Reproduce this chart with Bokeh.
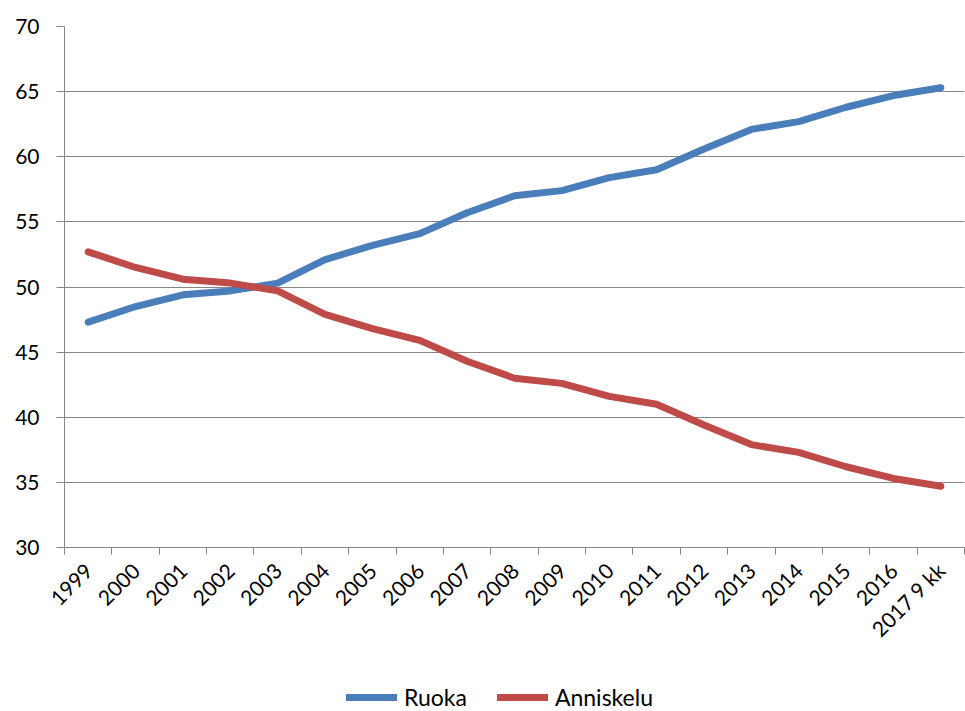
from math import pi
from bokeh.plotting import figure
from bokeh.layouts import column
from bokeh.models import ColumnDataSource, Range1d, FixedTicker, Legend, LegendItem
from bokeh.embed import file_html
from bokeh.resources import INLINE

years = ["1999", "2000", "2001", "2002", "2003", "2004", "2005", "2006", "2007",
         "2008", "2009", "2010", "2011", "2012", "2013", "2014", "2015", "2016",
         "2017 9 kk"]
ruoka = [47.3, 48.5, 49.4, 49.7, 50.3, 52.1, 53.2, 54.1, 55.7, 57.0, 57.4, 58.4,
         59.0, 60.6, 62.1, 62.7, 63.8, 64.7, 65.3]
anniskelu = [52.7, 51.5, 50.6, 50.3, 49.7, 47.9, 46.8, 45.9, 44.3, 43.0, 42.6, 41.6,
             41.0, 39.4, 37.9, 37.3, 36.2, 35.3, 34.7]
y_ticks = [30, 35, 40, 45, 50, 55, 60, 65, 70]

FONT = "Lato"
GRID = "#868686"
BLUE = "#4A7EBB"
RED = "#BE4B48"

idx = list(range(len(years)))
src = ColumnDataSource(dict(x=idx, ruoka=ruoka, anniskelu=anniskelu))

p = figure(width=965, height=670, output_backend="svg", toolbar_location=None,
           x_range=Range1d(-0.5, len(years) - 0.5), y_range=Range1d(y_ticks[0], y_ticks[-1]),
           min_border_left=64, min_border_right=1, min_border_top=26, min_border_bottom=123)
p.outline_line_color = None
p.background_fill_color = "white"

line_kw = dict(line_width=7, line_cap="round", line_join="round")
r1 = p.line("x", "ruoka", source=src, line_color=BLUE, **line_kw)
r2 = p.line("x", "anniskelu", source=src, line_color=RED, **line_kw)

# x axis
xa = p.xaxis[0]
xa.ticker = FixedTicker(ticks=idx, minor_ticks=[i - 0.5 for i in range(len(years) + 1)])
xa.major_label_overrides = {i: lab for i, lab in enumerate(years)}
xa.major_label_orientation = pi / 4
xa.major_tick_out = 0
xa.major_tick_in = 0
xa.minor_tick_out = 7
xa.minor_tick_in = 0
xa.minor_tick_line_color = GRID
xa.axis_line_color = GRID
xa.major_label_text_font = FONT
xa.major_label_text_font_size = "21px"
xa.major_label_text_color = "black"
xa.major_label_standoff = 12

# y axis
ya = p.yaxis[0]
ya.ticker = FixedTicker(ticks=y_ticks)
ya.major_tick_out = 8
ya.major_tick_in = 0
ya.minor_tick_line_color = None
ya.major_tick_line_color = GRID
ya.axis_line_color = GRID
ya.major_label_text_font = FONT
ya.major_label_text_font_size = "21px"
ya.major_label_text_color = "black"
ya.major_label_standoff = 17

p.xgrid.grid_line_color = None
p.ygrid.grid_line_color = GRID
p.ygrid.grid_line_width = 1

# legend strip below the chart (same series, drawn outside the visible range)
lg = figure(width=965, height=41, output_backend="svg", toolbar_location=None,
            x_axis_type=None, y_axis_type=None,
            x_range=Range1d(-0.5, len(years) - 0.5), y_range=Range1d(0, 1),
            min_border=0)
lg.outline_line_color = None
lg.grid.grid_line_color = None
l1 = lg.line("x", "ruoka", source=src, line_color=BLUE, **line_kw)
l2 = lg.line("x", "anniskelu", source=src, line_color=RED, **line_kw)

legend = Legend(items=[LegendItem(label="Ruoka", renderers=[l1]),
                       LegendItem(label="Anniskelu", renderers=[l2])],
                orientation="horizontal", location=(282, 0),
                glyph_width=51, glyph_height=20, label_standoff=7, spacing=30,
                padding=0, margin=0, border_line_color=None,
                background_fill_alpha=0,
                label_text_font=FONT, label_text_font_size="23px",
                label_text_color="black")
lg.add_layout(legend, "center")

layout = column(p, lg, spacing=0)
open("out.html", "w").write(file_html(layout, INLINE))
